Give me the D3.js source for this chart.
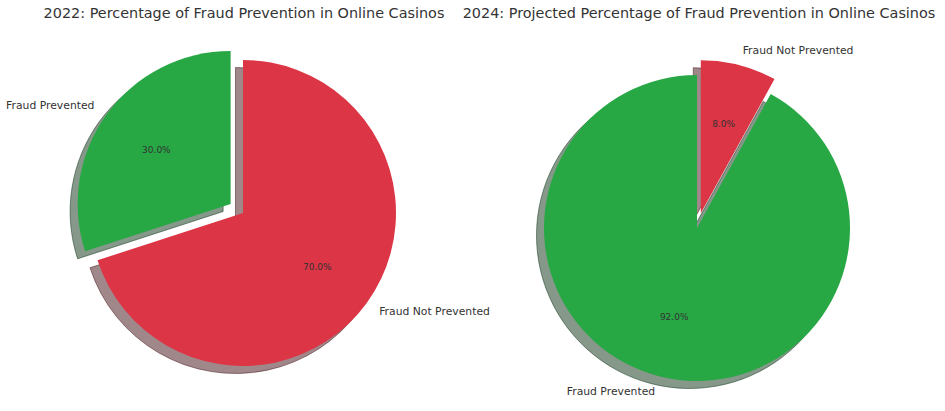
<!DOCTYPE html>
<html>
<head>
<meta charset="utf-8">
<script src="https://cdn.jsdelivr.net/npm/d3@7"></script>
<style>
  html, body { margin: 0; padding: 0; background: #fff; }
  svg { display: block; }
  text { font-family: "DejaVu Sans", sans-serif; }
</style>
</head>
<body>
<svg id="chart" width="945" height="411"></svg>
<script>
// ---- data ----
const categories = ["Fraud Prevented", "Fraud Not Prevented"];
const values2022 = [30, 70];
const values2024 = [92, 8];
const explode2022 = [0.1, 0];
const explode2024 = [0, 0.1];
const colors = ["#28a745", "#dc3545"];
const titles = [
  "2022: Percentage of Fraud Prevention in Online Casinos",
  "2024: Projected Percentage of Fraud Prevention in Online Casinos"
];

// ---- layout ----
const svg = d3.select("#chart");
const R = 153;
const panels = [
  { title: titles[0], values: values2022, explode: explode2022, cx: 243, cy: 213, tx: 244 },
  { title: titles[1], values: values2024, explode: explode2024, cx: 697, cy: 228, tx: 699 }
];
const shadowDx = -7.5, shadowDy = 7.5;

const pie = d3.pie().sort(null).startAngle(0).endAngle(-2 * Math.PI);
const arc = d3.arc().innerRadius(0).outerRadius(R);
const colorScale = d3.scaleOrdinal().domain(categories).range(colors);

function shade(c) {
  const rgb = d3.rgb(c);
  return d3.rgb(rgb.r * 0.3, rgb.g * 0.3, rgb.b * 0.3).toString();
}

panels.forEach(p => {
  const g = svg.append("g").attr("transform", `translate(${p.cx},${p.cy})`);
  const arcs = pie(p.values).map((d, i) => {
    const mid = (d.startAngle + d.endAngle) / 2;
    const ex = p.explode[i] * R;
    return {
      d, i, mid,
      ox: Math.sin(mid) * ex,
      oy: -Math.cos(mid) * ex,
      cat: categories[i]
    };
  });

  // shadows
  g.append("g").selectAll("path").data(arcs).join("path")
    .attr("transform", a => `translate(${a.ox + shadowDx},${a.oy + shadowDy})`)
    .attr("d", a => arc(a.d))
    .attr("fill", a => shade(colorScale(a.cat)))
    .attr("stroke", a => shade(colorScale(a.cat)))
    .attr("stroke-width", 1)
    .attr("fill-opacity", 0.5)
    .attr("stroke-opacity", 0.5);

  // wedges
  g.append("g").selectAll("path").data(arcs).join("path")
    .attr("transform", a => `translate(${a.ox},${a.oy})`)
    .attr("d", a => arc(a.d))
    .attr("fill", a => colorScale(a.cat));

  // category labels
  g.append("g").selectAll("text").data(arcs).join("text")
    .attr("x", a => a.ox + Math.sin(a.mid) * R * 1.1)
    .attr("y", a => a.oy - Math.cos(a.mid) * R * 1.1)
    .attr("text-anchor", a => (a.ox + Math.sin(a.mid) * R * 1.1) > 0 ? "start" : "end")
    .attr("dominant-baseline", "central")
    .attr("font-size", 10.8)
    .attr("fill", "#333")
    .text(a => a.cat);

  // percentage labels
  g.append("g").selectAll("text").data(arcs).join("text")
    .attr("x", a => a.ox + Math.sin(a.mid) * R * 0.6)
    .attr("y", a => a.oy - Math.cos(a.mid) * R * 0.6)
    .attr("text-anchor", "middle")
    .attr("dominant-baseline", "central")
    .attr("font-size", 9)
    .attr("fill", "#333")
    .text(a => d3.format(".1f")(p.values[a.i] / d3.sum(p.values) * 100) + "%");

  // title
  svg.append("text")
    .attr("x", p.tx)
    .attr("y", 13)
    .attr("text-anchor", "middle")
    .attr("dominant-baseline", "central")
    .attr("font-size", 14.4)
    .attr("fill", "#333")
    .text(p.title);
});
</script>
</body>
</html>
